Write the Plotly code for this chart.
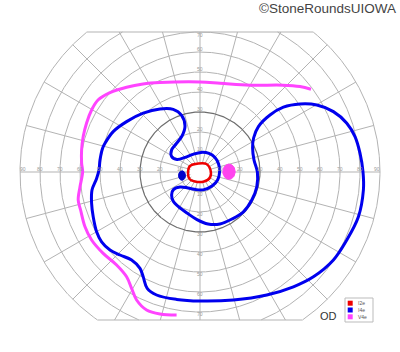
import numpy as np
import plotly.graph_objects as go

# ---------------- data (degrees of visual field) ----------------
circle_ecc = [10, 20, 30, 40, 50, 60, 70, 80, 90]
meridian_angles = list(range(0, 360, 15))
h_tick_labels = [10, 20, 30, 40, 50, 60, 70, 80, 90]
v_tick_labels = [10, 20, 30, 40, 50, 60, 70]
top_limit = 70
bottom_limit = -74

# V4e isopter (open curve)
v4e_x = [55.5, 50, 41.5, 25, 10, 0, -20, -28.5, -36.7, -45, -51, -54.2, -56.7, -58.4, -59.2, -59.2,
         -58.7, -60, -60.9, -59.7, -57.5, -54.2, -48.4, -41.7, -36.7, -34.2, -31.7, -26.7, -20, -11.7]
v4e_y = [41.4, 42.7, 43.4, 43.4, 44.4, 45, 44.7, 44, 42.4, 39.7, 36, 31, 24.5, 17.7, 11, 4.5,
         0, -7.4, -14, -19, -27.4, -34, -40.7, -46.5, -52.4, -58.2, -64, -69, -71, -71.5]

# I4e isopter (closed)
i4e_x = [-50.5, -50, -48.7, -47.5, -43.4, -36.7, -28.4, -20, -13.4, -9.2, -7.5, -9, -12, -14.2, -14.2,
         -11.5, -7.5, -3.5, 0.5, 4.5, 7.5, 9.3, 9.8, 8.8, 6, 2, -2, -6, -10, -13.3, -14.2, -13.3,
         -10.8, -6.5, -1.5, 4, 10, 16, 21.7, 25.9, 28.4, 28.7, 27, 26.3, 26.8, 29.2, 35, 41.7, 50,
         58.4, 66.7, 73.4, 77.5, 80, 81.5, 81.7, 79.2, 73.4, 66.7, 56.7, 46.7, 33.4, 16.7, 0,
         -11.7, -21.7, -26.4, -28.4, -30, -34.2, -40, -45, -49.2, -51.7, -53.4, -54.2, -54, -51.7, -50.5]
i4e_y = [1, 6, 11.9, 14.4, 20.2, 25.2, 29.4, 31.5, 31.3, 28.3, 23, 18, 14, 11, 7.8,
         6.3, 7.3, 8.8, 9.8, 9.3, 7.3, 4, 0, -4, -7, -8.8, -8.8, -8, -7.5, -8.8, -11.5, -14.8,
         -17.3, -20.5, -23.8, -26, -26, -23.5, -19.9, -14, -7.4, 0, 6, 12, 17, 22.7, 28.5, 32.4, 34,
         33.5, 30.2, 24.4, 17.7, 9.4, 0, -9, -22.4, -34, -44, -52.4, -57.4, -61.5, -64, -64.5,
         -63.7, -61.5, -58.2, -52.4, -48.2, -44, -41.5, -39, -34.9, -29.9, -22.4, -15.7, -9, -3.2, 1]

# I2e isopter (closed)
i2e_x = [-6, -5, -0.75, 3.25, 5.25, 5, 2, -2.5, -5.25, -6]
i2e_y = [-0.5, 3, 4.25, 4, 1, -2.75, -4.75, -4.75, -3.5, -0.5]

# blind-spot scotomas: centre x, centre y, half-width, half-height
blue_spot = (-9, -1.75, 1.75, 2.4)
magenta_spot = (14.5, 0.15, 3.1, 3.8)

legend_items = [("I2e", "#ee0000"), ("I4e", "#0000ee"), ("V4e", "#ff44ff")]

# ---------------- figure ----------------
W, H = 400, 352
fig = go.Figure()

GRID = "#b3b3b3"

def clip_ok(y):
    return bottom_limit <= y <= top_limit

# circles
t = np.linspace(0, 2 * np.pi, 1441)
gx, gy = [], []
dark_x, dark_y = [], []
for e in circle_ecc:
    xs = e * np.cos(t)
    ys = e * np.sin(t)
    xs = np.where((ys <= top_limit) & (ys >= bottom_limit), xs, np.nan)
    ys = np.where(np.isnan(xs), np.nan, ys)
    if e == 30:
        dark_x += list(xs) + [None]
        dark_y += list(ys) + [None]
    else:
        gx += list(xs) + [None]
        gy += list(ys) + [None]

# meridians
outer = circle_ecc[-1]
for a in meridian_angles:
    th = np.radians(a)
    s, c = np.sin(th), np.cos(th)
    r_end = outer
    if s > 1e-9:
        r_end = min(r_end, top_limit / s)
    elif s < -1e-9:
        r_end = min(r_end, bottom_limit / s)
    r0 = 5
    gx += [r0 * c, r_end * c, None]
    gy += [r0 * s, r_end * s, None]

# top / bottom boundary lines
for lim in (top_limit, bottom_limit):
    half = np.sqrt(outer ** 2 - lim ** 2)
    gx += [-half, half, None]
    gy += [lim, lim, None]

fig.add_trace(go.Scatter(x=gx, y=gy, mode="lines", line=dict(color=GRID, width=1),
                         hoverinfo="skip", connectgaps=False))
fig.add_trace(go.Scatter(x=dark_x, y=dark_y, mode="lines", line=dict(color="#6e6e6e", width=1.2),
                         hoverinfo="skip", connectgaps=False))

# isopters
fig.add_trace(go.Scatter(x=v4e_x, y=v4e_y, mode="lines", line=dict(color="#ff44ff", width=3, shape="spline"),
                         name="V4e"))
fig.add_trace(go.Scatter(x=i4e_x, y=i4e_y, mode="lines", line=dict(color="#0000ee", width=3, shape="spline"),
                         name="I4e"))
fig.add_trace(go.Scatter(x=i2e_x, y=i2e_y, mode="lines", line=dict(color="#ee0000", width=2.5, shape="spline"),
                         name="I2e"))

# scotomas
def ellipse(spec):
    cx, cy, rx, ry = spec
    tt = np.linspace(0, 2 * np.pi, 60)
    return cx + rx * np.cos(tt), cy + ry * np.sin(tt)

bx, by = ellipse(blue_spot)
fig.add_trace(go.Scatter(x=bx, y=by, mode="lines", fill="toself", fillcolor="#0000cc",
                         line=dict(color="#0000cc", width=1)))
mx, my = ellipse(magenta_spot)
fig.add_trace(go.Scatter(x=mx, y=my, mode="lines", fill="toself", fillcolor="#ff44ee",
                         line=dict(color="#ff44ee", width=1)))

# tick labels
ann = []
lab_font = dict(family="Liberation Sans", size=5, color="#9a9a9a")
for v in h_tick_labels:
    for sgn in (-1, 1):
        xs = 0
        if v == 90:
            xs = -3 * sgn
        ann.append(dict(x=sgn * v, y=0, text=str(v), showarrow=False, font=lab_font,
                        xshift=xs, yshift=3, xanchor="center", yanchor="middle"))
for v in v_tick_labels:
    ann.append(dict(x=0, y=v, text=str(v), showarrow=False, font=lab_font,
                    yshift=(-3 if v == top_limit else 3), xanchor="center", yanchor="middle"))
    ann.append(dict(x=0, y=-v, text=str(v), showarrow=False, font=lab_font,
                    yshift=-2, xanchor="center", yanchor="middle"))

def px(x):
    return x / W

def py(y):
    return 1 - y / H

# copyright
ann.append(dict(x=px(398), y=py(9), xref="paper", yref="paper", text="©StoneRoundsUIOWA",
                showarrow=False, xanchor="right", yanchor="middle",
                font=dict(family="Liberation Sans", size=13.5, color="#444444")))
# OD
ann.append(dict(x=px(328), y=py(316), xref="paper", yref="paper", text="OD", showarrow=False,
                xanchor="center", yanchor="middle",
                font=dict(family="Liberation Sans", size=11, color="#333333")))

shapes = [dict(type="rect", xref="paper", yref="paper", x0=px(345), x1=px(373), y0=py(322), y1=py(298),
               line=dict(color="#bbbbbb", width=1), fillcolor="white")]
for i, (lab, col) in enumerate(legend_items):
    yc = 303.2 + i * 6.8
    shapes.append(dict(type="rect", xref="paper", yref="paper", x0=px(347.7), x1=px(352.7),
                       y0=py(yc + 2.5), y1=py(yc - 2.5), line=dict(width=0), fillcolor=col))
    ann.append(dict(x=px(356), y=py(yc), xref="paper", yref="paper", text=lab, showarrow=False,
                    xanchor="left", yanchor="middle",
                    font=dict(family="Liberation Sans", size=5, color="#555555")))

fig.update_layout(
    width=W, height=H, margin=dict(l=0, r=0, t=0, b=0),
    paper_bgcolor="white", plot_bgcolor="white", showlegend=False,
    xaxis=dict(range=[-100, 100], visible=False, fixedrange=True),
    yaxis=dict(range=[-90, 86], visible=False, fixedrange=True),
    annotations=ann, shapes=shapes,
)

fig.write_html("out.html")
